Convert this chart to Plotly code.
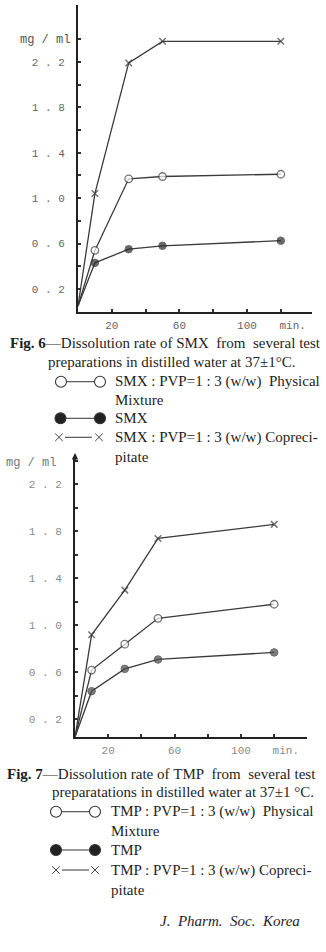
import plotly.graph_objects as go

W, H = 326, 952

# ---------------- data ----------------
time_min = [0, 10, 30, 50, 120]

smx_physical = [0.05, 0.54, 1.17, 1.19, 1.21]
smx_pure = [0.05, 0.43, 0.55, 0.58, 0.625]
smx_coprecip = [0.05, 1.04, 2.19, 2.38, 2.38]

tmp_physical = [0.05, 0.62, 0.84, 1.06, 1.18]
tmp_pure = [0.05, 0.44, 0.63, 0.71, 0.77]
tmp_coprecip = [0.05, 0.92, 1.30, 1.74, 1.86]

y_tickvals = [0.2, 0.6, 1.0, 1.4, 1.8, 2.2]
y_ticktext = ["0 . 2", "0 . 6", "1 . 0", "1 . 4", "1 . 8", "2 . 2"]
y_minor = [0.2, 0.4, 0.6, 0.8, 1.0, 1.2, 1.4, 1.6, 1.8, 2.0, 2.2, 2.4]
x_tickvals = [20, 60, 100, 127]
x_ticktext = ["20", "60", "100", "min."]
x_minor = [20, 40, 60, 80, 100, 120]

# ---------------- helpers ----------------
def px(x):
    return x / W


def py(y):
    return 1 - y / H


LINE = "#3a3a3a"
marker_sizes = [0, 7.5, 7.5, 7.5, 7.5]


def add_series(fig, xa, ya, coprecip, physical, pure, pure_col):
    fig.add_trace(go.Scatter(
        x=time_min, y=coprecip, xaxis=xa, yaxis=ya, mode="lines+markers",
        line=dict(color=LINE, width=1.3),
        marker=dict(symbol="x-thin", size=[0, 6.5, 6.5, 6.5, 6.5],
                    line=dict(color=LINE, width=1.5), color=LINE)))
    fig.add_trace(go.Scatter(
        x=time_min, y=physical, xaxis=xa, yaxis=ya, mode="lines+markers",
        line=dict(color=LINE, width=1.3),
        marker=dict(symbol="circle", size=marker_sizes, color="white",
                    line=dict(color=LINE, width=1.3))))
    fig.add_trace(go.Scatter(
        x=time_min, y=pure, xaxis=xa, yaxis=ya, mode="lines+markers",
        line=dict(color=LINE, width=1.3),
        marker=dict(symbol="circle", size=marker_sizes, color=pure_col,
                    line=dict(color="#2a2a2a", width=1))))


fig = go.Figure()
add_series(fig, "x", "y", smx_coprecip, smx_physical, smx_pure, "#2a2a2a")
add_series(fig, "x2", "y2", tmp_coprecip, tmp_physical, tmp_pure, "#4a4a4a")

tick_font6 = dict(family="Liberation Mono", size=11, color="#666")
tick_font7 = dict(family="Liberation Mono", size=11, color="#8a8a8a")


def xaxis_cfg(domain, rng, font):
    return dict(domain=domain, range=rng, showline=True, linecolor="#222",
                linewidth=1.6, showgrid=False, zeroline=False,
                tickmode="array", tickvals=x_tickvals, ticktext=x_ticktext,
                ticks="", tickfont=font, ticklabelstandoff=2,
                minor=dict(tickmode="array", tickvals=x_minor, ticks="inside",
                           ticklen=3, tickwidth=1.5, tickcolor="#333"),
                fixedrange=True)


def yaxis_cfg(domain, rng, font, anchor):
    return dict(domain=domain, range=rng, anchor=anchor, showline=True,
                linecolor="#222", linewidth=2, showgrid=False, zeroline=False,
                tickmode="array", tickvals=y_tickvals, ticktext=y_ticktext,
                ticks="", tickfont=font, ticklabelstandoff=9,
                minor=dict(tickmode="array", tickvals=y_minor, ticks="inside",
                           ticklen=3, tickwidth=1.5, tickcolor="#333"),
                fixedrange=True)


# Fig. 6 axes: x=0 at px 78, 1.69 px/min ; y=0 at px 311.7, 113.6 px/unit
x6_l, x6_r = 78, 311.7
y6_b, y6_t = 311.7, 5
# Fig. 7 axes: x=0 at px 75, 1.66 px/min ; y=0 at px 742.9, 117.5 px/unit
x7_l, x7_r = 75, 306.7
y7_b, y7_t = 736.7, 458

layout = dict(
    width=W, height=H, margin=dict(l=0, r=0, t=0, b=0),
    paper_bgcolor="white", plot_bgcolor="rgba(0,0,0,0)", showlegend=False,
    xaxis=xaxis_cfg([px(x6_l), px(x6_r)], [0, (x6_r - x6_l) / 1.69], tick_font6),
    yaxis=yaxis_cfg([py(y6_b), py(y6_t)], [0, (y6_b - y6_t) / 113.6], tick_font6, "x"),
    xaxis2=xaxis_cfg([px(x7_l), px(x7_r)], [0, (x7_r - x7_l) / 1.66], tick_font7),
    yaxis2=yaxis_cfg([py(y7_b), py(y7_t)],
                     [(742.9 - y7_b) / 117.5, (742.9 - y7_t) / 117.5], tick_font7, "x2"),
)
layout["xaxis"]["anchor"] = "y"
layout["xaxis2"]["anchor"] = "y2"
fig.update_layout(**layout)

SERIF = "Liberation Serif"
FS = 15
ann = []
shapes = []


def text(x, y, s, size=FS, anchor="left", color="#1e1e1e", family=SERIF):
    ann.append(dict(x=px(x), y=py(y), xref="paper", yref="paper", text=s,
                    showarrow=False, xanchor=anchor, yanchor="middle",
                    font=dict(family=family, size=size, color=color)))


def circle(cx, cy, r, filled):
    shapes.append(dict(type="circle", xref="paper", yref="paper",
                       x0=px(cx - r), x1=px(cx + r), y0=py(cy + r), y1=py(cy - r),
                       line=dict(color="#333", width=1.1),
                       fillcolor="#222" if filled else "white"))


def seg(x0, y0, x1, y1, w=1.1):
    shapes.append(dict(type="line", xref="paper", yref="paper",
                       x0=px(x0), x1=px(x1), y0=py(y0), y1=py(y1),
                       line=dict(color="#444", width=w)))


def hline(x0, x1, y):
    seg(x0, y, x1, y)


def cross(cx, cy, r=3.8):
    seg(cx - r, cy - r, cx + r, cy + r, 1.0)
    seg(cx - r, cy + r, cx + r, cy - r, 1.0)


# unit labels
text(72, 40, "mg / ml", size=12, anchor="right", color="#555", family="Liberation Mono")
text(58, 463.3, "mg / ml", size=12, anchor="right", color="#777", family="Liberation Mono")

# Fig. 6 caption
NB = "\u00a0"
text(8, 342.7, "<b>Fig. 6</b>—Dissolution rate of" + NB + "SMX" + NB + NB + "from" + NB + NB + "several" + NB + "test")
text(45.7, 361.7, "preparations in distilled water at 37±1°C.")
circle(61, 381.7, 5.5, False); hline(66.5, 94.5, 381.7); circle(100, 381.7, 5.5, False)
text(112.7, 381.7, "SMX : PVP=1 : 3 (w/w)" + NB + NB + "Physical")
text(112.7, 400, "Mixture")
circle(60.5, 418.3, 5.5, True); hline(66, 94.5, 418.3); circle(100, 418.3, 5.5, True)
text(112.7, 418.3, "SMX")
cross(59, 437.3); hline(65, 92, 437.3); cross(99, 437.3)
text(112.7, 437.3, "SMX : PVP=1 : 3 (w/w)" + NB + "Copreci-")
text(112.7, 457.3, "pitate")

# Fig. 7 caption
text(5, 774, "<b>Fig. 7</b>—Dissolution rate of" + NB + "TMP" + NB + NB + "from" + NB + NB + "several" + NB + "test")
text(50, 792, "preparatations in distilled water at 37±1" + NB + "°C.")
circle(56, 811.7, 5.5, False); hline(61.5, 89.5, 811.7); circle(95, 811.7, 5.5, False)
text(109.3, 811.7, "TMP : PVP=1 : 3 (w/w)" + NB + NB + "Physical")
text(109.3, 830.7, "Mixture")
circle(56, 850, 5.5, True); hline(61.5, 89.5, 850); circle(95, 850, 5.5, True)
text(109.3, 850, "TMP")
cross(56, 870); hline(62, 89, 870); cross(95, 870)
text(109.3, 870, "TMP : PVP=1 : 3 (w/w)" + NB + "Copreci-")
text(109.3, 890, "pitate")

text(158, 920.7, "<i>J." + NB + NB + "Pharm." + NB + NB + "Soc." + NB + NB + "Korea</i>", size=15)

# small arrowhead on top of Fig. 7 ordinate
ann.append(dict(x=px(x7_l), y=py(453), xref="paper", yref="paper", text="",
                showarrow=True, ax=0, ay=10, axref="pixel", ayref="pixel",
                arrowhead=2, arrowsize=0.8, arrowwidth=1.6, arrowcolor="#222"))

fig.update_layout(annotations=ann, shapes=shapes)
fig.write_html("out.html")
